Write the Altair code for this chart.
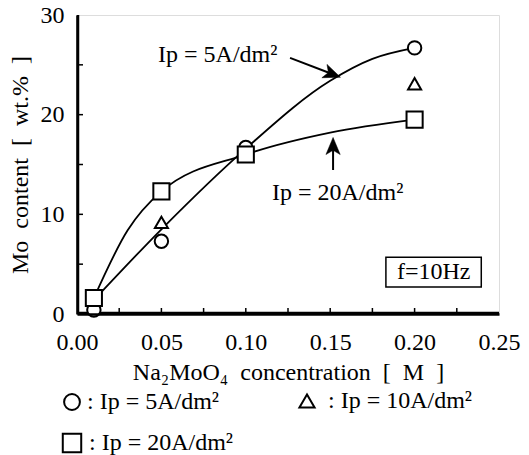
import altair as alt
import pandas as pd

# ---- data ----
conc_5A = [0.01, 0.05, 0.10, 0.20]
mo_5A = [0.4, 7.3, 16.7, 26.7]
conc_10A = [0.05, 0.20]
mo_10A = [9.2, 23.1]
conc_20A = [0.01, 0.05, 0.10, 0.20]
mo_20A = [1.6, 12.3, 16.0, 19.5]

# fitted curves
curve5_x = [0.01, 0.05, 0.10, 0.15, 0.175, 0.20]
curve5_y = [1.4, 8.5, 16.6, 23.4, 25.6, 26.7]
curve20_x = [0.01, 0.03, 0.05, 0.10, 0.15, 0.20]
curve20_y = [1.6, 8.4, 12.3, 16.0, 18.2, 19.5]

x_ticks = [0.025, 0.05, 0.075, 0.10, 0.125, 0.15, 0.175, 0.20, 0.225]
y_ticks = [5, 10, 15, 20, 25]
x_labels = [0.0, 0.05, 0.10, 0.15, 0.20, 0.25]
y_labels = [0, 10, 20, 30]
x_range = [0.0, 0.25]
y_range = [0, 30]

FONT = "Liberation Serif"
FS = 24
NB = "\u00a0"

W, H = 422, 299
xs = alt.Scale(domain=x_range, nice=False, zero=False)
ys = alt.Scale(domain=y_range, nice=False)

xaxis = alt.Axis(values=x_labels, format=".2f", ticks=False, grid=False, domain=True,
                 domainColor="black", domainWidth=2.5,
                 title=f"Na₂MoO₄{NB}{NB}concentration{NB}{NB}[{NB}{NB}M{NB}{NB}]",
                 labelFont=FONT, labelFontSize=FS, labelColor="black",
                 labelPadding=16, titleFont=FONT, titleFontSize=FS,
                 titleFontWeight="normal", titleColor="black", titlePadding=6,
                 labelFlush=False, zindex=3)
yaxis = alt.Axis(values=y_labels, ticks=False, grid=False, domain=True,
                 domainColor="black", domainWidth=2.5,
                 title=f"Mo{NB}{NB}content{NB}{NB}[{NB}{NB}wt.%{NB}{NB}]",
                 labelFont=FONT, labelFontSize=FS, labelColor="black",
                 labelPadding=13, titleFont=FONT, titleFontSize=FS,
                 titleFontWeight="normal", titleColor="black", titlePadding=8,
                 labelFlush=False, zindex=3)


def X(field):
    return alt.X(field, type="quantitative", scale=xs, axis=xaxis)


def Y(field):
    return alt.Y(field, type="quantitative", scale=ys, axis=yaxis)


d5 = pd.DataFrame({"x": conc_5A, "y": mo_5A})
d10 = pd.DataFrame({"x": conc_10A, "y": mo_10A})
d20 = pd.DataFrame({"x": conc_20A, "y": mo_20A})
c5 = pd.DataFrame({"x": curve5_x, "y": curve5_y})
c20 = pd.DataFrame({"x": curve20_x, "y": curve20_y})

# plot frame: left and bottom edges drawn slightly inside the view
edge_left = alt.Chart(pd.DataFrame({"a": [0]})).mark_rule(color="black", strokeWidth=2.5).encode(
    x=alt.value(1), y=alt.value(0), y2=alt.value(H))
edge_bottom = alt.Chart(pd.DataFrame({"a": [0]})).mark_rule(color="black", strokeWidth=2.5).encode(
    y=alt.value(H - 1), x=alt.value(0), x2=alt.value(W))

line5 = alt.Chart(c5).mark_line(color="black", strokeWidth=1.8, interpolate="monotone").encode(
    x=X("x"), y=Y("y"))
line20 = alt.Chart(c20).mark_line(color="black", strokeWidth=1.8, interpolate="monotone").encode(
    x=X("x"), y=Y("y"))

pts5 = alt.Chart(d5).mark_point(shape="circle", size=180, filled=True, fill="white",
                                stroke="black", strokeWidth=2, opacity=1).encode(x=X("x"), y=Y("y"))
pts10 = alt.Chart(d10).mark_point(shape="triangle-up", size=170, filled=True, fill="white",
                                  stroke="black", strokeWidth=2, opacity=1).encode(x=X("x"), y=Y("y"))
pts20 = alt.Chart(d20).mark_point(shape="square", size=260, filled=True, fill="white",
                                  stroke="black", strokeWidth=2, opacity=1).encode(x=X("x"), y=Y("y"))

xt = alt.Chart(pd.DataFrame({"x": x_ticks})).mark_rule(color="black", strokeWidth=1.5).encode(
    x=X("x"), y=alt.value(H), y2=alt.value(H - 6))
yt = alt.Chart(pd.DataFrame({"y": y_ticks})).mark_rule(color="black", strokeWidth=1.5).encode(
    y=Y("y"), x=alt.value(0), x2=alt.value(6))

# annotations
ann_text = pd.DataFrame({
    "x": [0.048, 0.1155],
    "y": [26.0, 12.1],
    "t": [f"Ip{NB}={NB}5A/dm²", f"Ip{NB}={NB}20A/dm²"],
})
ann = alt.Chart(ann_text).mark_text(font=FONT, fontSize=FS, align="left", baseline="middle",
                                    color="black").encode(x=X("x"), y=Y("y"), text="t:N")

arrow_shaft = pd.DataFrame({"x": [0.1262, 0.1517], "y": [25.7, 14.45],
                            "x2": [0.1508, 0.1517], "y2": [24.1, 16.8]})
shafts = alt.Chart(arrow_shaft).mark_rule(color="black", strokeWidth=2).encode(
    x=X("x"), y=Y("y"), x2="x2:Q", y2="y2:Q")
arrow_head = pd.DataFrame({"x": [0.1508, 0.1517], "y": [24.1, 16.76], "a": [111, 0]})
heads = alt.Chart(arrow_head).mark_point(
    shape="M0,-1L0.75,0.8L0,0.35L-0.75,0.8Z", size=361, filled=True, fill="black",
    stroke="black", strokeWidth=0.5, opacity=1).encode(
    x=X("x"), y=Y("y"), angle=alt.Angle("a:Q", scale=None))

# f=10Hz box
box_df = pd.DataFrame({"x": [0.183], "x2": [0.2395], "y": [2.7], "y2": [5.7]})
box = alt.Chart(box_df).mark_rect(fill="white", stroke="black", strokeWidth=1.5).encode(
    x=X("x"), x2="x2:Q", y=Y("y"), y2="y2:Q")
box_txt = alt.Chart(pd.DataFrame({"x": [0.2113], "y": [4.2], "t": ["f=10Hz"]})).mark_text(
    font=FONT, fontSize=FS, align="center", baseline="middle", color="black").encode(
    x=X("x"), y=Y("y"), text="t:N")

# custom legend below the plot
leg_syms = []
for shp, px, py, sz in [("circle", -5, 387, 250), ("triangle-up", 230, 386, 230),
                        ("square", -5, 428, 340)]:
    leg_syms.append(alt.Chart(pd.DataFrame({"a": [0]})).mark_point(
        shape=shp, size=sz, filled=False, stroke="black", strokeWidth=2, opacity=1).encode(
        x=alt.value(px), y=alt.value(py)))
leg_labels = [f":{NB}Ip{NB}={NB}5A/dm²", f":{NB}Ip{NB}={NB}10A/dm²", f":{NB}Ip{NB}={NB}20A/dm²"]
leg_txt = []
for lbl, px, py in zip(leg_labels, [10, 251, 12], [387, 386, 428]):
    leg_txt.append(alt.Chart(pd.DataFrame({"a": [0]})).mark_text(
        font=FONT, fontSize=FS, align="left", baseline="middle", color="black", text=lbl).encode(
        x=alt.value(px), y=alt.value(py)))

chart = alt.layer(edge_left, edge_bottom, xt, yt, line5, line20, pts5, pts10, pts20,
                  shafts, heads, ann, box, box_txt, *leg_syms, *leg_txt).properties(
    width=W, height=H,
    autosize=alt.AutoSizeParams(type="none"),
    padding={"left": 77, "top": 15, "right": 30, "bottom": 141},
).configure_view(stroke="black", strokeWidth=2.5).configure(background="white")

chart.save("out.html", embed_options={"renderer": "svg", "actions": False})
